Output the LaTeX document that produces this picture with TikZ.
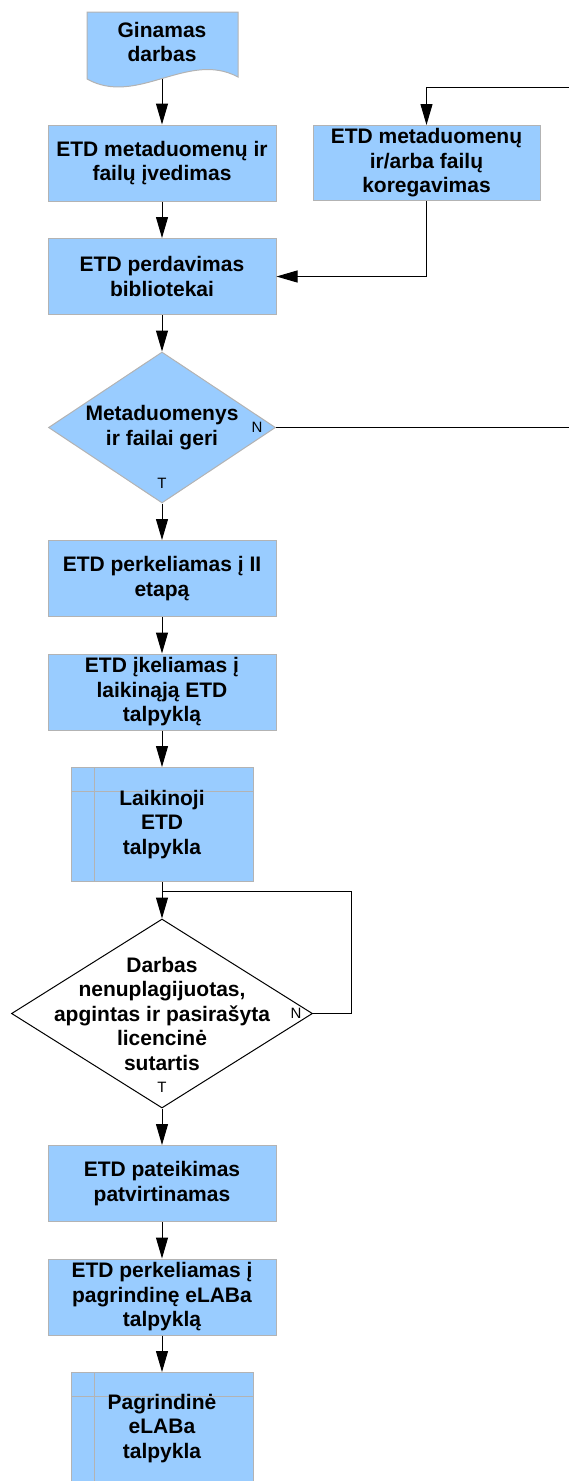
\documentclass[tikz,border=0pt]{standalone}
\usepackage{fontspec}
\setmainfont{Liberation Sans}
\usetikzlibrary{positioning}
\usetikzlibrary{shapes.geometric}
\usetikzlibrary{arrows.meta}
\definecolor{boxblue}{HTML}{99CCFF}
\definecolor{boxline}{HTML}{B3B3B3}

\begin{document}
\begin{tikzpicture}[x=1pt, y=-1pt, node distance=36.5pt,
			every node/.style={font=\bfseries\fontsize{21}{24.5}\selectfont, align=center},
			proc/.style={draw=boxline, fill=boxblue, line width=1pt, minimum width=228pt, minimum height=76pt, inner sep=0pt},
			store/.style={proc, minimum width=182pt, path picture={
				\draw[boxline, line width=0.8pt] ([xshift=23pt]path picture bounding box.north west) -- ([xshift=23pt]path picture bounding box.south west)
				([yshift=-24pt]path picture bounding box.north west) -- ([yshift=-24pt]path picture bounding box.north east);}},
			decision/.style={diamond, line width=1pt, inner sep=0pt},
			yn/.style={font=\fontsize{15}{17}\selectfont},
			arr/.style={draw, line width=1pt, -{Triangle[length=21pt,width=12pt]}}]
			\useasboundingbox (0,0) rectangle (569,1481);
			\clip (0,0) rectangle (569,1481);
			% document shape on top
			\filldraw[fill=boxblue, draw=boxline, line width=1pt] (87,12) -- (238,12) -- (238,77) .. controls (188,50) and (137,107) .. (87,79) -- cycle;
			\node (doc) at (162,42) {Ginamas\\darbas};
			\coordinate (docbot) at (162,78.5);
			\node[proc] (entry) at (162,163) {ETD metaduomenų ir\\failų įvedimas};
			\node[proc, minimum width=227pt, minimum height=75pt, right=36pt of entry] (fix) {ETD metaduomenų\\ir/arba failų\\koregavimas};
			\node[proc, below=of entry] (handover) {ETD perdavimas\\bibliotekai};
			\node[decision, draw=boxline, fill=boxblue, minimum width=227pt, minimum height=151pt, below=of handover] (check) {};
			\node (checktxt) at (check) {Metaduomenys\\ir failai geri};
			\node[proc, below=of check] (stage) {ETD perkeliamas į II\\etapą};
			\node[proc, below=of stage] (upload) {ETD įkeliamas į\\laikinąją ETD\\talpyklą};
			\node[store, minimum height=114pt, below=of upload] (tmpstore) {Laikinoji\\ETD\\talpykla};
			\node[decision, draw=black, fill=white, minimum width=301pt, minimum height=189pt, below=of tmpstore] (review) {};
			\node (reviewtxt) at (review) {Darbas\\nenuplagijuotas,\\apgintas ir pasirašyta\\licencinė\\sutartis};
			\node[proc, below=of review] (confirm) {ETD pateikimas\\patvirtinamas};
			\node[proc, below=of confirm] (move) {ETD perkeliamas į\\pagrindinę eLABa\\talpyklą};
			\node[store, minimum height=112pt, below=of move] (mainstore) {Pagrindinė\\eLABa\\talpykla};
			% N / T marks
			\node[yn] (checkn) at ([xshift=-19pt]check.east) {N};
			\node[yn] (checkt) at ([yshift=20pt]check.south) {T};
			\node[yn] (reviewn) at ([xshift=-17pt]review.east) {N};
			\node[yn] (reviewt) at ([yshift=21pt]review.south) {T};
			% main flow
			\draw[arr] (docbot) -- (entry);
			\draw[arr] (entry) -- (handover);
			\draw[arr] (handover) -- (check);
			\draw[arr] (check) -- (stage);
			\draw[arr] (stage) -- (upload);
			\draw[arr] (upload) -- (tmpstore);
			\draw[arr] (tmpstore) -- (review);
			\draw[arr] (review) -- (confirm);
			\draw[arr] (confirm) -- (move);
			\draw[arr] (move) -- (mainstore);
			% loops back
			\coordinate (rtop) at (572,87);
			\coordinate (rbot) at (572,427.5);
			\draw[arr] (check.east) -- (rbot) -- (rtop) -| (fix);
			\draw[arr] (fix) |- (handover);
			\coordinate (loop) at (351,891);
			\draw[line width=1pt] (review.east) -| (loop) -- (loop -| review.north);
	\end{tikzpicture}
\end{document}
